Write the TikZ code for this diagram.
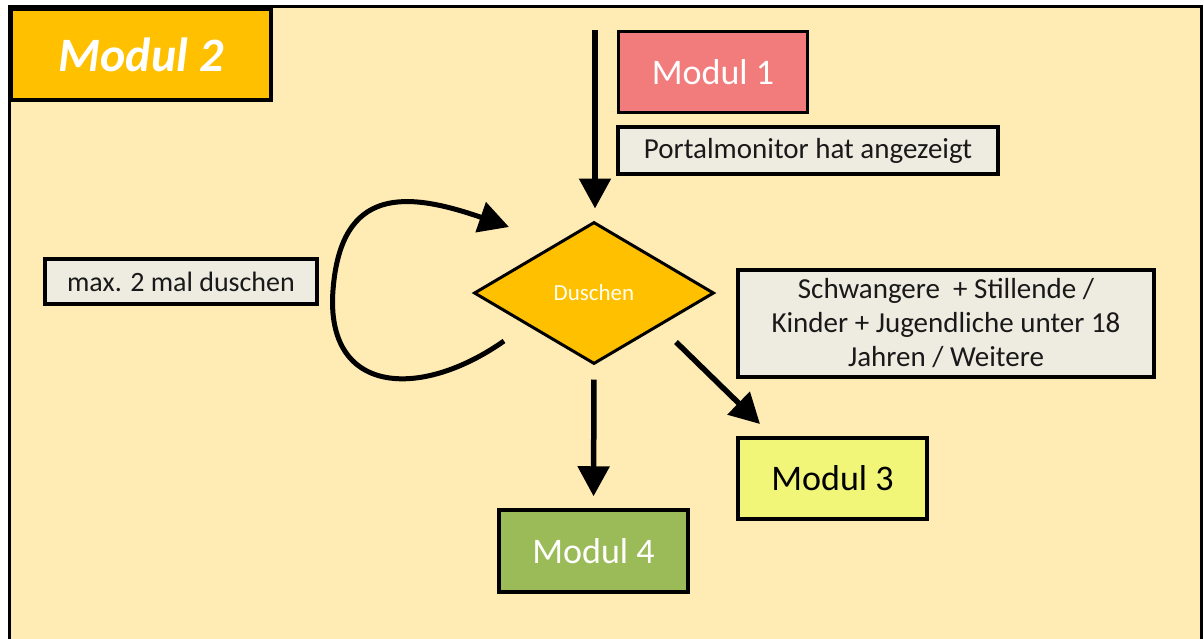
\documentclass[tikz,border=0pt]{standalone}
\usepackage{fontspec}
\setmainfont{Carlito}
\usetikzlibrary{shapes.geometric,arrows.meta}
\definecolor{panel}{HTML}{FFEBB4}
\definecolor{orange}{HTML}{FFC000}
\definecolor{rosa}{HTML}{F27C7C}
\definecolor{lemon}{HTML}{F1F678}
\definecolor{olive}{HTML}{9BBB59}
\definecolor{note}{HTML}{EEECE1}
\begin{document}
\begin{tikzpicture}[x=1pt,y=-1pt,
  modbox/.style={draw=black, line width=3.5pt, rectangle, inner sep=0pt,
    font=\fontsize{36}{40}\selectfont},
  notebox/.style={draw=black, line width=3.5pt, rectangle, inner sep=0pt,
    fill=note, text=black!90},
  flow/.style={line width=5.5pt, draw=black,
    -{Triangle[length=30pt,width=31pt]}},
  loopline/.style={line width=5pt, draw=black,
    -{Triangle[length=30pt,width=31pt]}}]
% canvas and panel
\fill[white] (0,0) rectangle (1204,638);
\useasboundingbox (0,0) rectangle (1204,638);
\draw[fill=panel, line width=3.5pt] (9.5,6.5) -- (1201.5,6.5) -- (1201.5,660) -- (9.5,660) -- cycle;
% title tab
\node[draw=black, line width=3.5pt, fill=orange, minimum width=260pt, minimum height=91pt,
  inner sep=0pt, text=white, font=\fontsize{48}{52}\selectfont\bfseries\itshape]
  (title) at (141,54.5) {Modul 2};
% boxes
\node[modbox, fill=rosa, text=white, minimum width=189pt, minimum height=81pt]
  (m1) at (713,72) {Modul 1};
\node[notebox, minimum width=380pt, minimum height=47pt, font=\fontsize{29}{34}\selectfont]
  (portal) at (808,150.5) {Portalmonitor hat angezeigt};
\node[notebox, minimum width=272pt, minimum height=45pt, font=\fontsize{28}{34}\selectfont]
  (max) at (181,281.5) {max. 2 mal duschen};
\node[notebox, minimum width=416pt, minimum height=107pt, align=center,
  font=\fontsize{29}{34}\selectfont]
  (groups) at (946,323.5) {Schwangere \ + Stillende /\\Kinder + Jugendliche unter 18\\Jahren / Weitere};
\node[modbox, fill=lemon, text=black, minimum width=189pt, minimum height=81pt]
  (m3) at (832.5,478.5) {Modul 3};
\node[modbox, fill=olive, text=white, minimum width=189pt, minimum height=82pt]
  (m4) at (593.5,551) {Modul 4};
% decision
\node[diamond, draw=black, line width=3pt, fill=orange, minimum width=240pt,
  minimum height=142pt, inner sep=0pt, text=white!95!yellow,
  font=\fontsize{23}{26}\selectfont] (dusch) at (594,293) {Duschen};
% connectors
\coordinate (entry) at (595,30);
\draw[flow] (entry) -- (entry |- dusch.north) [shorten >=12pt];
\draw[flow, shorten <=14pt, shorten >=12pt] (dusch.south) -- (m4.north);
\coordinate (diagS) at (676,342);
\coordinate (diagE) at (760,424);
\draw[flow] (diagS) -- (diagE);
\coordinate (loopS) at (504,341);
\coordinate (loopE) at (509,227);
\draw[loopline] (loopS) .. controls (420,400) and (325,395) .. (333,290)
  .. controls (341,185) and (408,192) .. (loopE);
\end{tikzpicture}
\end{document}
